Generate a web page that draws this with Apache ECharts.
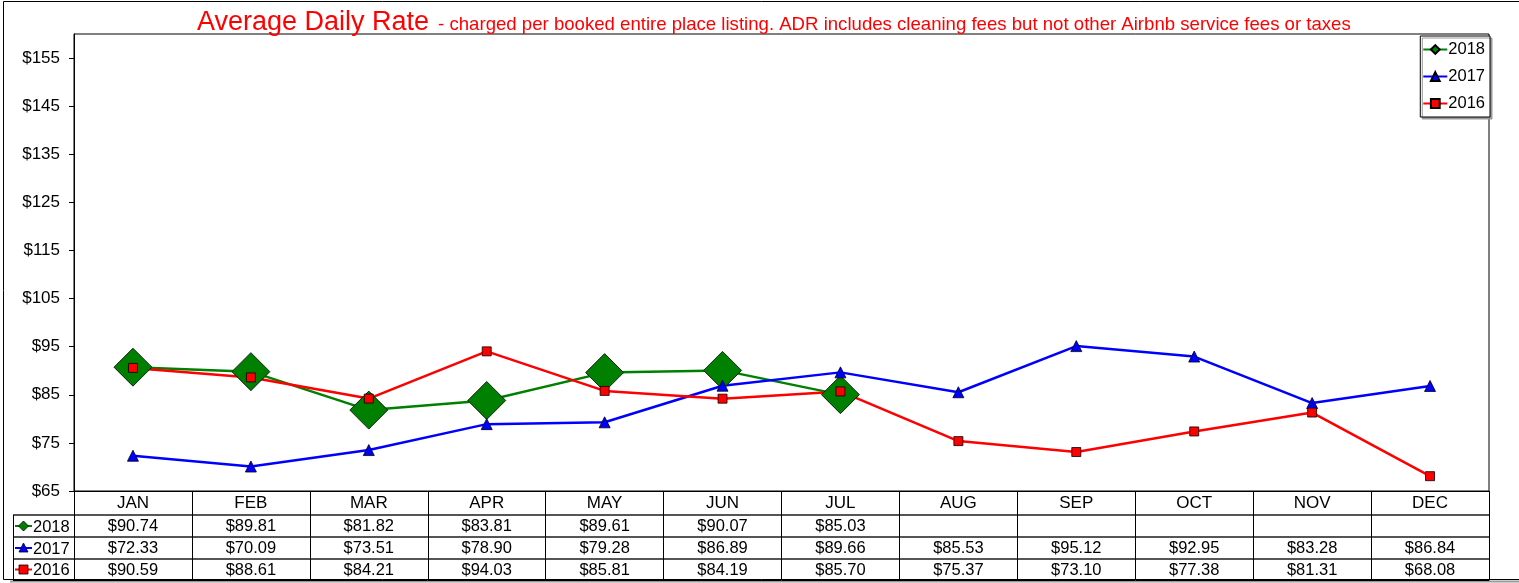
<!DOCTYPE html>
<html>
<head>
<meta charset="utf-8">
<script src="https://cdn.jsdelivr.net/npm/echarts@6/dist/echarts.min.js"></script>
<style>
html, body { margin: 0; padding: 0; background: #fff; }
#chart { width: 1519px; height: 583px; }
</style>
</head>
<body>
<div id="chart"></div>
<script>
const months = ['JAN', 'FEB', 'MAR', 'APR', 'MAY', 'JUN', 'JUL', 'AUG', 'SEP', 'OCT', 'NOV', 'DEC'];
const rate2018 = [90.74, 89.81, 81.82, 83.81, 89.61, 90.07, 85.03];
const rate2017 = [72.33, 70.09, 73.51, 78.90, 79.28, 86.89, 89.66, 85.53, 95.12, 92.95, 83.28, 86.84];
const rate2016 = [90.59, 88.61, 84.21, 94.03, 85.81, 84.19, 85.70, 75.37, 73.10, 77.38, 81.31, 68.08];
const yTicks = [65, 75, 85, 95, 105, 115, 125, 135, 145, 155];

const FONT = 'Liberation Sans, Arial, sans-serif';
const chart = echarts.init(document.getElementById('chart'));

// row text for the data table under the plot
const rowText = arr => months.map((m, i) => arr[i] != null ? '$' + arr[i].toFixed(2) : '');

function tableAxis(data, offset, tickLen, lineColor) {
    return {
        type: 'category',
        data: data,
        position: 'bottom',
        offset: offset,
        boundaryGap: true,
        axisLine: { show: true, lineStyle: { color: lineColor, width: 2 } },
        axisTick: { show: tickLen > 0, length: tickLen, interval: 0, lineStyle: { color: '#000', width: 1 } },
        axisLabel: { show: true, interval: 0, margin: 3, fontSize: 16.5, color: '#000', fontFamily: FONT },
        splitLine: { show: false }
    };
}

// legend-style keys in the left column of the table
const keys = [
    { name: '2018', color: '#008000', symbol: 'diamond', y: 526 },
    { name: '2017', color: '#0000ff', symbol: 'triangle', y: 548 },
    { name: '2016', color: '#ff0000', symbol: 'rect', y: 569.5 }
];
const keyGraphics = [];
keys.forEach(k => {
    keyGraphics.push({ type: 'line', shape: { x1: 15, y1: k.y, x2: 32, y2: k.y }, style: { stroke: k.color, lineWidth: 2 } });
    const cx = 23.5;
    const sym = k.symbol === 'diamond'
        ? { type: 'polygon', shape: { points: [[cx, k.y - 5], [cx + 5, k.y], [cx, k.y + 5], [cx - 5, k.y]] } }
        : k.symbol === 'triangle'
            ? { type: 'polygon', shape: { points: [[cx, k.y - 5], [cx + 4.5, k.y + 4], [cx - 4.5, k.y + 4]] } }
            : { type: 'rect', shape: { x: cx - 4.5, y: k.y - 4.5, width: 9, height: 9 } };
    sym.style = { fill: k.color, stroke: '#000', lineWidth: 0.8 };
    keyGraphics.push(sym);
    keyGraphics.push({ type: 'text', x: 33, y: k.y + 1, style: { text: k.name, font: '16.5px ' + FONT, fill: '#000', verticalAlign: 'middle' } });
});

const series = [
    { name: '2018', data: rate2018, color: '#008000', symbol: 'diamond', symbolSize: 38 },
    { name: '2017', data: rate2017, color: '#0000ff', symbol: 'triangle', symbolSize: 11 },
    { name: '2016', data: rate2016, color: '#ff0000', symbol: 'rect', symbolSize: 9 }
].map(s => ({
    type: 'line',
    name: s.name,
    data: s.data,
    xAxisIndex: 0,
    yAxisIndex: 0,
    symbol: s.symbol,
    symbolSize: s.symbolSize,
    showAllSymbol: true,
    silent: true,
    animation: false,
    lineStyle: { color: s.color, width: 2.5 },
    itemStyle: { color: s.color, borderColor: '#000', borderWidth: 0.8 }
}));

const option = {
    animation: false,
    backgroundColor: '#fff',
    textStyle: { fontFamily: FONT },
    title: {
        left: 197,
        top: 6,
        padding: 0,
        text: '{a|Average Daily Rate}{b|- charged per booked entire place listing. ADR includes cleaning fees but not other Airbnb service fees or taxes}',
        textStyle: {
            fontWeight: 'normal',
            rich: {
                a: { fontSize: 27, color: '#ff0000', fontFamily: FONT, fontWeight: 'normal', verticalAlign: 'bottom', lineHeight: 30 },
                b: { fontSize: 18.6, color: '#ff0000', fontFamily: FONT, fontWeight: 'normal', verticalAlign: 'bottom', lineHeight: 30, padding: [0, 0, 2, 9] }
            }
        }
    },
    legend: {
        orient: 'vertical',
        right: 29,
        top: 36,
        padding: [5, 5, 5, 2],
        itemGap: 10,
        itemWidth: 24,
        itemHeight: 11,
        backgroundColor: '#fff',
        borderColor: '#000',
        borderWidth: 1,
        shadowColor: '#999',
        shadowOffsetX: 2,
        shadowOffsetY: 2,
        shadowBlur: 0,
        textStyle: { fontSize: 16.5, color: '#000', fontFamily: FONT, padding: [0, 0, 0, -4] },
        data: ['2018', '2017', '2016']
    },
    grid: {
        left: 74,
        right: 30,
        top: 34,
        bottom: 92,
        show: true,
        borderColor: '#000',
        borderWidth: 1,
        backgroundColor: 'transparent'
    },
    xAxis: [
        {
            type: 'category',
            data: months,
            position: 'bottom',
            boundaryGap: true,
            axisLine: { show: true, lineStyle: { color: '#000', width: 1 } },
            axisTick: { show: true, length: 24, interval: 0, lineStyle: { color: '#000' } },
            axisLabel: { interval: 0, margin: 4, fontSize: 17, color: '#000', fontFamily: FONT },
            splitLine: { show: false }
        },
        tableAxis(rowText(rate2018), 24, 22, '#555'),
        tableAxis(rowText(rate2017), 46, 22, '#555'),
        tableAxis(rowText(rate2016), 68, 21, '#555'),
        {
            type: 'category',
            data: months,
            position: 'bottom',
            offset: 89,
            boundaryGap: true,
            axisLine: { show: true, lineStyle: { color: '#000', width: 1 } },
            axisTick: { show: false },
            axisLabel: { show: false }
        }
    ],
    yAxis: {
        type: 'value',
        min: 65,
        max: 160,
        axisLine: { show: true, lineStyle: { color: '#000', width: 1 } },
        axisTick: { show: true, length: 5, customValues: yTicks, lineStyle: { color: '#000' } },
        axisLabel: {
            customValues: yTicks,
            margin: 14,
            fontSize: 17,
            color: '#000',
            fontFamily: FONT,
            formatter: v => '$' + v
        },
        splitLine: { show: false }
    },
    series: series,
    graphic: [
        // outer chart frame
        { type: 'rect', shape: { x: 3.5, y: 1.5, width: 1600, height: 578 }, style: { fill: null, stroke: '#000', lineWidth: 1 }, z: -1 },
        { type: 'line', shape: { x1: 10, y1: 581.5, x2: 1519, y2: 581.5 }, style: { stroke: '#999', lineWidth: 2 }, z: -1 },
        // left column of the data table
        { type: 'line', shape: { x1: 13, y1: 515, x2: 74, y2: 515 }, style: { stroke: '#555', lineWidth: 2 } },
        { type: 'line', shape: { x1: 13, y1: 537, x2: 74, y2: 537 }, style: { stroke: '#555', lineWidth: 2 } },
        { type: 'line', shape: { x1: 13, y1: 559, x2: 74, y2: 559 }, style: { stroke: '#555', lineWidth: 2 } },
        { type: 'line', shape: { x1: 13, y1: 580.5, x2: 74, y2: 580.5 }, style: { stroke: '#000', lineWidth: 1 } },
        { type: 'line', shape: { x1: 13.5, y1: 515, x2: 13.5, y2: 581 }, style: { stroke: '#000', lineWidth: 1 } }
    ].concat(keyGraphics)
};

chart.setOption(option);
</script>
</body>
</html>
